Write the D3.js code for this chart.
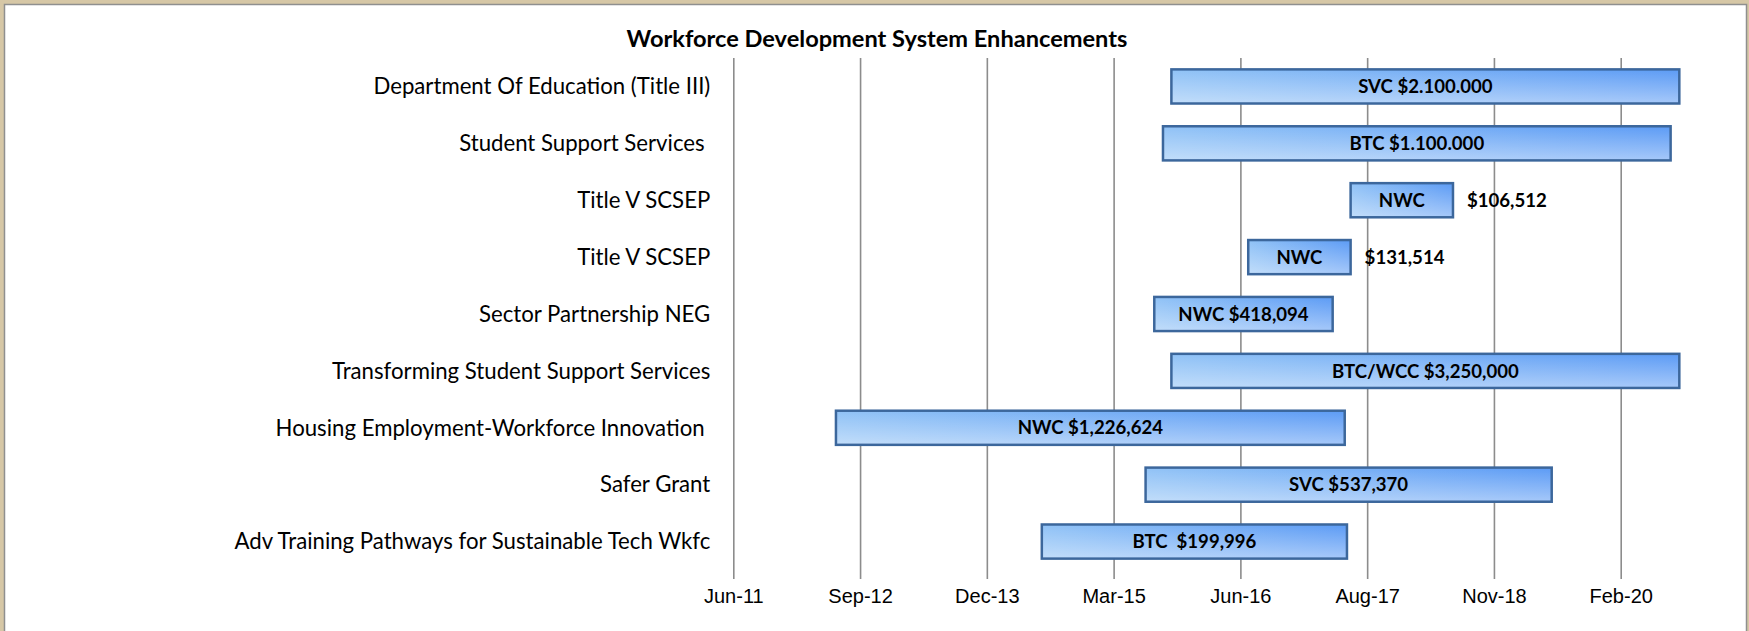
<!DOCTYPE html>
<html>
<head>
<meta charset="utf-8">
<script src="https://cdn.jsdelivr.net/npm/d3@7/dist/d3.min.js"></script>
<style>
  body { margin: 0; background: #d6c7a6; overflow: hidden; }
  svg { display: block; font-family: Lato, "Open Sans", sans-serif; }
  .cat-label { font-size: 22.2px; fill: #000; }
  .tick text { font-size: 20px; fill: #000; }
  .bar-label { font-size: 18.6px; font-weight: bold; fill: #000; white-space: pre; }
  .title { font-size: 23.6px; font-weight: bold; fill: #000; }
</style>
</head>
<body>
<svg id="chart" width="1749" height="631"></svg>
<script>
// grant rows, top to bottom
const categories = [
  'Department Of Education (Title III)',
  'Student Support Services ',
  'Title V SCSEP',
  'Title V SCSEP',
  'Sector Partnership NEG',
  'Transforming Student Support Services',
  'Housing Employment-Workforce Innovation ',
  'Safer Grant',
  'Adv Training Pathways for Sustainable Tech Wkfc'
];
const startDates = ['2015-10-01', '2015-09-01', '2017-07-01', '2016-07-01', '2015-08-01',
                    '2015-10-01', '2012-06-22', '2015-07-01', '2014-06-26'];
const endDates   = ['2020-09-15', '2020-08-15', '2018-07-01', '2017-07-01', '2017-04-28',
                    '2020-09-15', '2017-06-10', '2019-06-18', '2017-06-18'];
const barLabels  = ['SVC $2.100.000', 'BTC $1.100.000', 'NWC', 'NWC', 'NWC $418,094',
                    'BTC/WCC $3,250,000', 'NWC $1,226,624', 'SVC $537,370', 'BTC  $199,996'];
const sideLabels = ['', '', '$106,512', '$131,514', '', '', '', '', ''];

const tickDates  = ['2011-06-22', '2012-09-16', '2013-12-12', '2015-03-09',
                    '2016-06-03', '2017-08-29', '2018-11-24', '2020-02-19'];
const tickLabels = ['Jun-11', 'Sep-12', 'Dec-13', 'Mar-15', 'Jun-16', 'Aug-17', 'Nov-18', 'Feb-20'];

const parse = d3.timeParse('%Y-%m-%d');
const rows = categories.map((c, i) => ({
  i, name: c,
  start: parse(startDates[i]),
  end: parse(endDates[i]),
  label: barLabels[i],
  side: sideLabels[i]
}));
const ticks = tickDates.map(parse);

const width = 1749, height = 631;
const plot = { left: 733.3, right: 1620.7, top: 58, bottom: 570 };

const svg = d3.select('#chart');

// frame
svg.append('rect')
  .attr('x', 4.5).attr('y', 4.5)
  .attr('width', width - 7).attr('height', height + 10)
  .attr('fill', '#fff')
  .attr('stroke', '#8f8f8f')
  .attr('stroke-width', 1.5);

const x = d3.scaleTime()
  .domain([ticks[0], ticks[ticks.length - 1]])
  .range([plot.left, plot.right]);

const y = d3.scaleBand()
  .domain(rows.map(d => d.i))
  .range([plot.top, plot.bottom])
  .paddingInner(0.4)
  .paddingOuter(0.2);

// gridlines + axis labels
const xAxis = svg.append('g')
  .attr('transform', `translate(0,${plot.bottom + 9})`)
  .call(d3.axisBottom(x)
    .tickValues(ticks)
    .tickSize(-(plot.bottom + 9 - plot.top))
    .tickPadding(10)
    .tickFormat((d, i) => tickLabels[i]));
xAxis.select('.domain').remove();
xAxis.selectAll('.tick line').attr('stroke', '#8c8c8c').attr('stroke-width', 1.6);
xAxis.selectAll('.tick text').attr('dy', '0.71em');

// gradients
const defs = svg.append('defs');
const hGrad = defs.append('linearGradient')
  .attr('id', 'bar-h').attr('x1', '0%').attr('y1', '0%').attr('x2', '100%').attr('y2', '0%');
hGrad.append('stop').attr('offset', '0%').attr('stop-color', '#90c2f6');
hGrad.append('stop').attr('offset', '100%').attr('stop-color', '#5c9bf5');

const vGrad = defs.append('linearGradient')
  .attr('id', 'bar-v').attr('x1', '0%').attr('y1', '0%').attr('x2', '0%').attr('y2', '100%');
vGrad.append('stop').attr('offset', '0%').attr('stop-color', '#fff').attr('stop-opacity', 0);
vGrad.append('stop').attr('offset', '100%').attr('stop-color', '#fff').attr('stop-opacity', 0.45);

// category labels
svg.append('g')
  .selectAll('text')
  .data(rows)
  .join('text')
  .attr('class', 'cat-label')
  .attr('x', plot.left - 23)
  .attr('y', d => y(d.i) + y.bandwidth() / 2)
  .attr('dy', '0.35em')
  .attr('text-anchor', 'end')
  .style('white-space', 'pre')
  .text(d => d.name);

// bars
const bars = svg.append('g')
  .selectAll('g')
  .data(rows)
  .join('g');

bars.append('rect')
  .attr('x', d => x(d.start))
  .attr('y', d => y(d.i))
  .attr('width', d => x(d.end) - x(d.start))
  .attr('height', y.bandwidth())
  .attr('fill', 'url(#bar-h)');

bars.append('rect')
  .attr('x', d => x(d.start))
  .attr('y', d => y(d.i))
  .attr('width', d => x(d.end) - x(d.start))
  .attr('height', y.bandwidth())
  .attr('fill', 'url(#bar-v)')
  .attr('stroke', '#3c679c')
  .attr('stroke-width', 2.5);

bars.append('text')
  .attr('class', 'bar-label')
  .attr('x', d => (x(d.start) + x(d.end)) / 2)
  .attr('y', d => y(d.i) + y.bandwidth() / 2)
  .attr('dy', '0.36em')
  .attr('text-anchor', 'middle')
  .text(d => d.label);

bars.filter(d => d.side)
  .append('text')
  .attr('class', 'bar-label')
  .attr('x', d => x(d.end) + 14)
  .attr('y', d => y(d.i) + y.bandwidth() / 2)
  .attr('dy', '0.36em')
  .text(d => d.side);

// title
svg.append('text')
  .attr('class', 'title')
  .attr('x', 877)
  .attr('y', 47)
  .attr('text-anchor', 'middle')
  .text('Workforce Development System Enhancements');
</script>
</body>
</html>
